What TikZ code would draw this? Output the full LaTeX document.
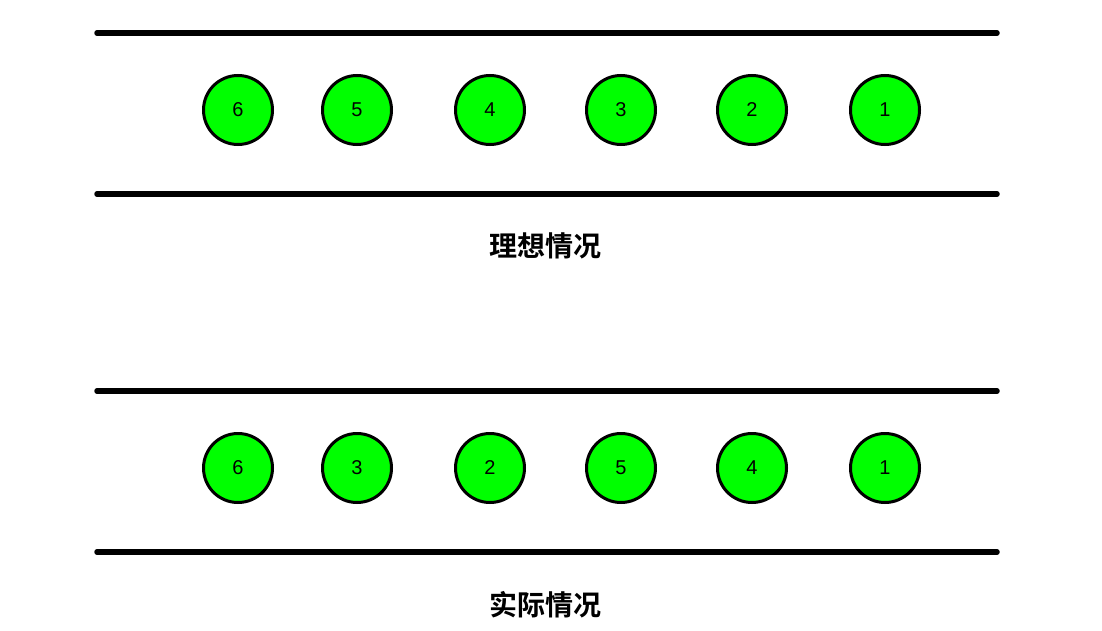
\documentclass[tikz,border=0pt]{standalone}
\usepackage{fontspec}
\setmainfont{Liberation Sans}
\newfontfamily\cjk{Noto Sans CJK SC}[BoldFont={* Bold}]
\definecolor{ballgreen}{RGB}{0,255,0}
\begin{document}
\begin{tikzpicture}[x=1pt,y=-1pt,
  ball/.style={circle,draw=black,line width=3pt,fill=ballgreen,minimum size=69pt,inner sep=0pt,font=\fontsize{20}{20}\selectfont},
  rail/.style={line width=5.5pt,line cap=round},
  caption/.style={font=\cjk\bfseries\fontsize{28}{28}\selectfont}]
\useasboundingbox (0,0) rectangle (1102,631);
\coordinate (t1l) at (97,33); \coordinate (t1r) at (997,33);
\coordinate (t2l) at (97,194); \coordinate (t2r) at (997,194);
\coordinate (b1l) at (97,391); \coordinate (b1r) at (997,391);
\coordinate (b2l) at (97,552); \coordinate (b2r) at (997,552);
\draw[rail] (t1l) -- (t1r);
\draw[rail] (t2l) -- (t2r);
\draw[rail] (b1l) -- (b1r);
\draw[rail] (b2l) -- (b2r);
\foreach \x/\n [count=\i] in {238/6,357/5,490/4,621/3,752/2,885/1}
  \node[ball] (a\i) at (\x,110) {\n};
\foreach \x/\n [count=\i] in {238/6,357/3,490/2,621/5,752/4,885/1}
  \node[ball] (b\i) at (\x,468) {\n};
\node[caption] (c1) at (545,246) {理想情况};
\node[caption] (c2) at (545,605) {实际情况};
\end{tikzpicture}
\end{document}
